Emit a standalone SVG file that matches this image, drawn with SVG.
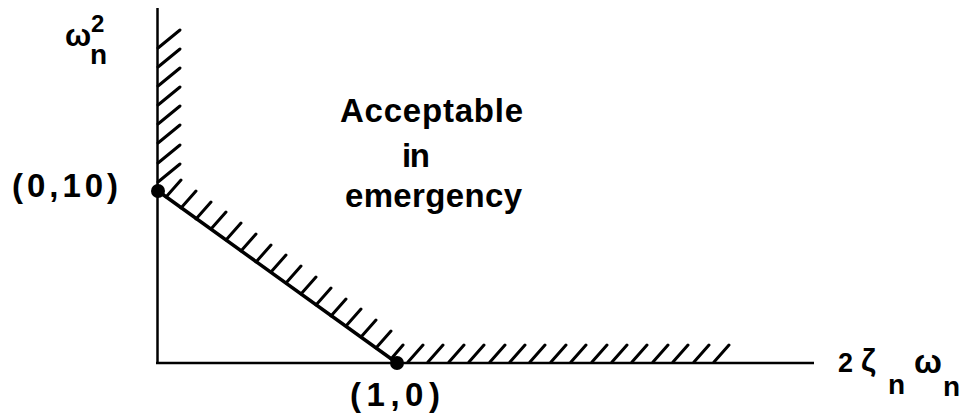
<svg xmlns="http://www.w3.org/2000/svg" width="962" height="416" viewBox="0 0 962 416">
<style>
.ax{stroke:#000;stroke-width:2.5;fill:none;stroke-linecap:butt}
.bd{stroke:#000;stroke-width:3.5;fill:none;stroke-linecap:round}
.h{stroke:#000;stroke-width:3;fill:none;stroke-linecap:round}
.t{font-family:"Liberation Sans",Arial,sans-serif;font-weight:bold;fill:#000}
.pt{fill:#000}
</style>
<rect width="962" height="416" fill="#fff"/>
<g id="axes">
<line class="ax" x1="157.5" y1="8" x2="157.5" y2="364"/>
<line class="ax" x1="156" y1="363" x2="814" y2="363"/>
</g>
<g id="connectors">
<line class="bd" x1="158" y1="191" x2="397" y2="363"/>
</g>
<g id="hatch-y">
<path class="h" d="M158 48l22 -18 M158 67l22 -18 M158 86l22 -18 M158 105l22 -18 M158 124l22 -18 M158 143l22 -18 M158 163l22 -18 M158 182l22 -18"/>
</g>
<g id="hatch-diag">
<path class="h" d="M166 197l15 -17 M181 208l15 -17 M196 219l15 -17 M211 229l15 -17 M226 240l15 -17 M241 251l15 -17 M256 262l15 -17 M271 272l15 -17 M286 283l15 -17 M301 294l15 -17 M316 305l15 -17 M331 316l15 -17 M346 326l15 -17 M361 337l15 -17 M376 348l15 -17 M391 359l12 -14"/>
</g>
<g id="hatch-x">
<path class="h" d="M408 362l15 -17 M428 362l15 -17 M449 362l15 -17 M469 362l15 -17 M490 362l15 -17 M510 362l15 -17 M530 362l15 -17 M551 362l15 -17 M571 362l15 -17 M592 362l15 -17 M612 362l15 -17 M632 362l15 -17 M653 362l15 -17 M673 362l15 -17 M694 362l15 -17 M714 362l15 -17"/>
</g>
<g id="point-0-10">
<circle class="pt" cx="158" cy="191" r="7"/>
<text class="t" x="12" y="197" font-size="33" textLength="106" lengthAdjust="spacing">(0,10)</text>
</g>
<g id="point-1-0">
<circle class="pt" cx="397" cy="363" r="7"/>
<text class="t" x="350" y="406" font-size="33" textLength="90" lengthAdjust="spacing">(1,0)</text>
</g>
<g id="region-label">
<text class="t" x="340" y="122" font-size="33" textLength="183" lengthAdjust="spacing">Acceptable</text>
<text class="t" x="402" y="167" font-size="33" textLength="28" lengthAdjust="spacing">in</text>
<text class="t" x="345" y="207" font-size="33" textLength="177" lengthAdjust="spacing">emergency</text>
</g>
<g id="y-label">
<text class="t" x="65" y="46" font-size="31">ω</text>
<text class="t" x="91" y="32" font-size="24">2</text>
<text class="t" x="90" y="64" font-size="28">n</text>
</g>
<g id="x-label">
<text class="t" x="838" y="372" font-size="27">2</text>
<text class="t" x="861" y="371" font-size="32">ζ</text>
<text class="t" x="888" y="394" font-size="28">n</text>
<text class="t" x="914" y="373" font-size="33">ω</text>
<text class="t" x="943" y="396" font-size="28">n</text>
</g>
</svg>
